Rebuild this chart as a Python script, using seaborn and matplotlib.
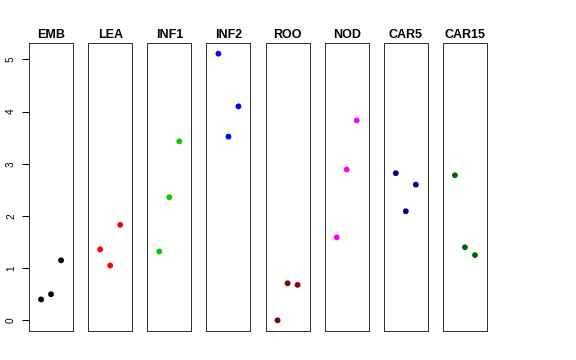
import pandas as pd
import seaborn as sns
import matplotlib.pyplot as plt

# tissues and their replicate values
tissues = ['EMB', 'LEA', 'INF1', 'INF2', 'ROO', 'NOD', 'CAR5', 'CAR15']
colors = ['black', 'red', '#00cd00', 'blue', '#8b0000', 'magenta', '#00008b', '#006400']
rep1 = [0.40, 1.36, 1.32, 5.11, 0.00, 1.59, 2.82, 2.78]
rep2 = [0.50, 1.05, 2.36, 3.52, 0.71, 2.89, 2.09, 1.40]
rep3 = [1.15, 1.83, 3.43, 4.10, 0.68, 3.83, 2.60, 1.25]

rows = []
for i, t in enumerate(tissues):
    for j, v in enumerate([rep1[i], rep2[i], rep3[i]]):
        rows.append({'tissue': t, 'rep': j + 1, 'value': v})
df = pd.DataFrame(rows)

sns.set_style('ticks')
plt.rcParams['font.family'] = ['Liberation Sans', 'DejaVu Sans']
plt.rcParams['text.color'] = 'black'
plt.rcParams['ytick.color'] = 'black'
plt.rcParams['ytick.labelcolor'] = 'black'

fig, axes = plt.subplots(1, 8, figsize=(8, 5), dpi=72)
fig.subplots_adjust(left=29/576, right=487/576, top=1-43/360, bottom=1-331/360, wspace=15/44)

ymax = max(rep1 + rep2 + rep3)
for ax, t, c in zip(axes, tissues, colors):
    sub = df[df['tissue'] == t]
    sns.scatterplot(data=sub, x='rep', y='value', color=c, s=34, edgecolor='none', ax=ax)
    ax.set_xlim(-0.2, 4.2)
    ax.set_ylim(-0.04 * ymax, ymax * 1.04)
    ax.set_title(t, fontsize=12.5, fontweight='bold', pad=5, color='black')
    ax.set_xticks([])
    ax.set_xlabel('')
    ax.set_ylabel('')
    for sp in ax.spines.values():
        sp.set_color('#333333')
        sp.set_linewidth(1)
    if ax is not axes[0]:
        ax.set_yticks([])

axes[0].set_yticks([0, 1, 2, 3, 4, 5])
axes[0].tick_params(axis='y', left=True, length=7, width=1, color='black', labelsize=10, pad=6)
plt.setp(axes[0].get_yticklabels(), rotation=90, va='center')

fig.savefig('out.png', dpi=72)
